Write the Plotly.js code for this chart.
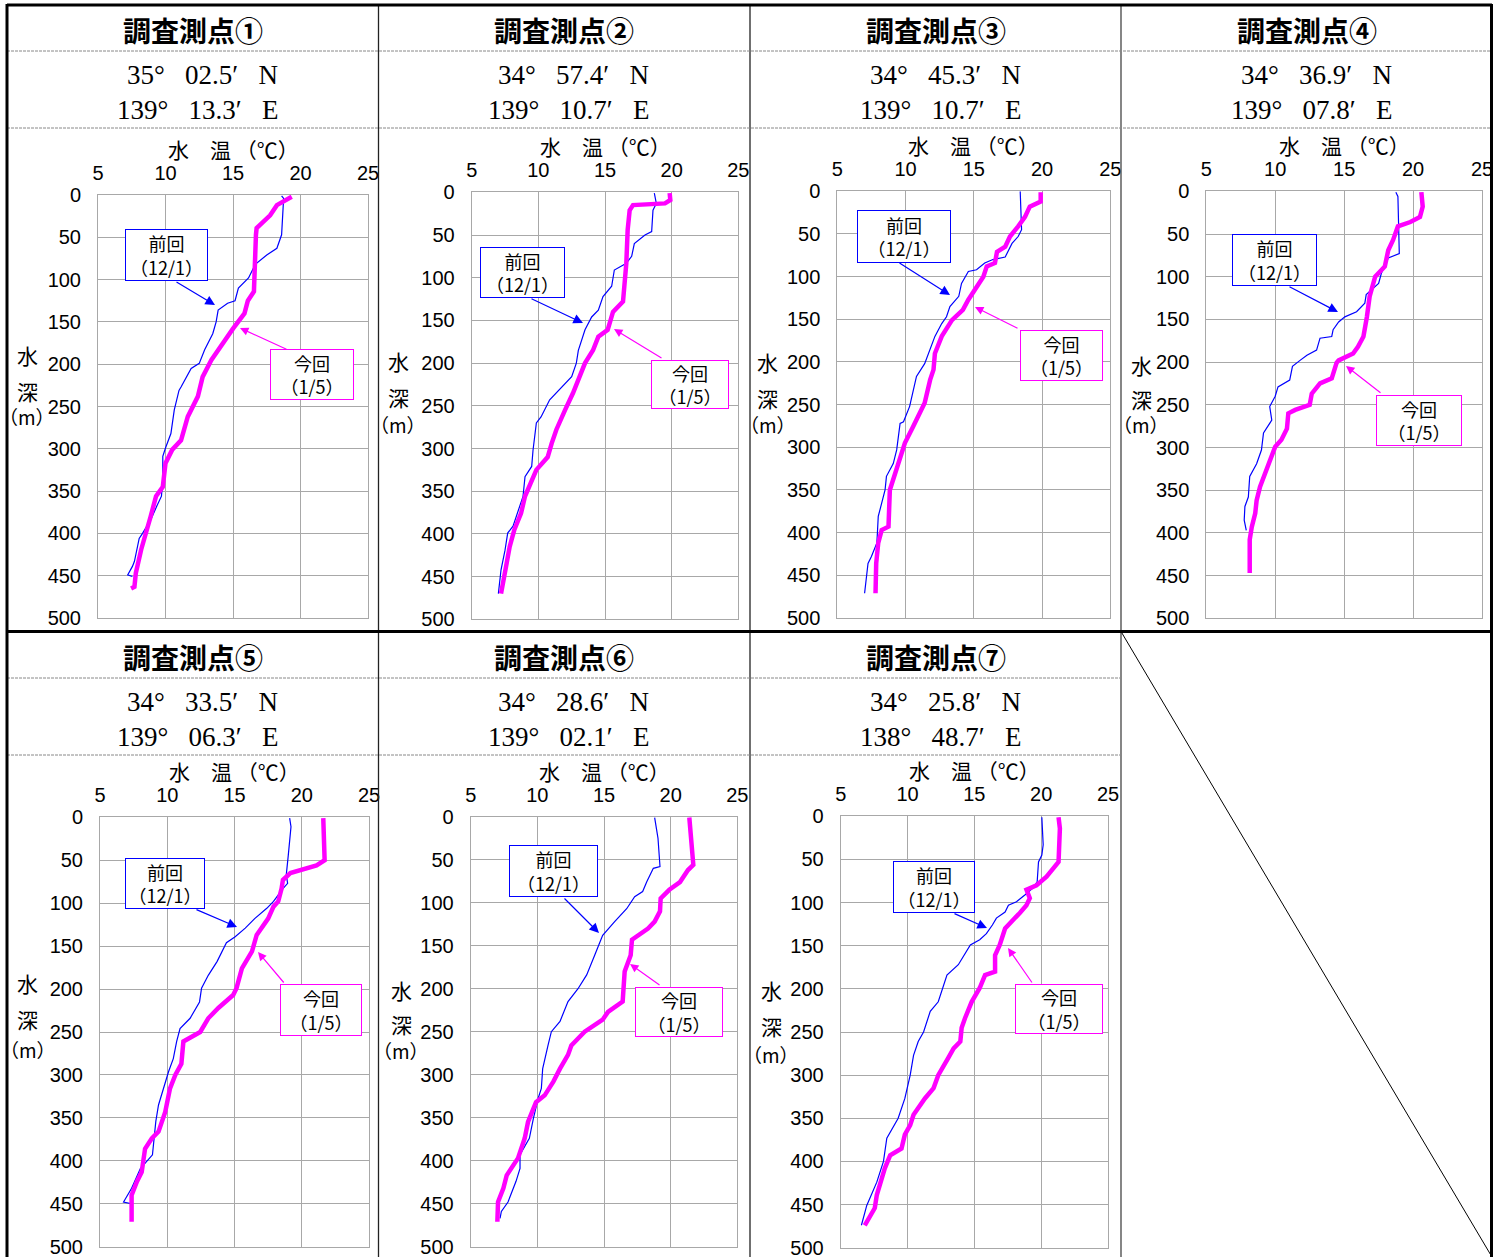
<!DOCTYPE html>
<html>
<head>
<meta charset="utf-8">
<script src="https://cdn.plot.ly/plotly-3.0.1.min.js"></script>
<style>
  body { margin: 0; background: #fff; }
  #chart { width: 1495px; height: 1257px; }
</style>
</head>
<body>
<div id="chart"></div>
<script>
// station names and positions
var titles = ['調査測点①', '調査測点②', '調査測点③', '調査測点④', '調査測点⑤', '調査測点⑥', '調査測点⑦'];
var latText = ['35°\u2002 02.5′\u2002 N', '34°\u2002 57.4′\u2002 N', '34°\u2002 45.3′\u2002 N', '34°\u2002 36.9′\u2002 N',
               '34°\u2002 33.5′\u2002 N', '34°\u2002 28.6′\u2002 N', '34°\u2002 25.8′\u2002 N'];
var lonText = ['139°\u2002 13.3′\u2002 E', '139°\u2002 10.7′\u2002 E', '139°\u2002 10.7′\u2002 E', '139°\u2002 07.8′\u2002 E',
               '139°\u2002 06.3′\u2002 E', '139°\u2002 02.1′\u2002 E', '138°\u2002 48.7′\u2002 E'];
var prevLabel = '前回<br>（12/1）';
var nowLabel = '今回<br>（1/5）';

// station 1
var t1Prev = [18.6,18.75,18.6,18.25,17.5,16.65,16.15,15.4,15.15,14.6,13.9,13.75,13.5,12.9,12.5,11.9,11.15,11.0,10.65,10.4,10.0,9.8,9.8,9.7,9.35,8.9,8.3,8.05,7.7,7.55,7.2,7.55];
var d1Prev = [1,4,47,63,71,82,98,110,125,128,136,150,164,183,199,205,227,231,254,282,299,309,337,356,368,384,400,406,433,439,449,451];
var t1Now = [19.35,18.7,18.25,17.75,17.25,16.75,16.7,16.6,16.55,16.1,15.85,15.0,14.1,13.4,12.75,12.4,11.65,11.15,10.5,10.0,9.8,9.3,8.9,8.55,8.2,7.8,7.7,7.45];
var d1Now = [2,8,12,24,31,39,47,80,114,125,140,158,180,195,215,238,262,290,301,317,345,356,380,400,419,447,463,465];

// station 2
var t2Prev = [18.7,18.85,18.6,18.5,18.0,17.2,17.0,16.6,15.7,15.5,14.85,14.5,14.0,13.5,13.0,12.85,12.5,11.6,10.85,10.2,9.85,9.6,9.5,9.0,8.85,8.1,7.7,7.5,7.2,7.0];
var d2Prev = [1,13,21,46,50,60,75,83,91,110,122,138,146,161,185,200,216,231,243,263,270,302,321,333,356,391,399,419,442,470];
var t2Now = [19.85,19.9,19.5,17.1,16.85,16.7,16.6,16.5,16.35,15.6,15.35,15.2,14.5,14.1,13.5,13.0,12.6,12.0,11.35,11.0,10.7,9.85,9.35,9.0,8.7,8.2,7.85,7.5,7.2];
var d2Now = [1,9,13,15,21,44,83,110,128,140,153,161,169,185,200,220,235,255,278,294,310,325,345,356,376,395,415,442,470];

// station 3
var t3Prev = [18.4,18.5,18.25,17.8,17.3,16.4,15.8,15.2,14.6,14.1,13.9,13.25,13.0,12.65,12.15,11.8,11.4,10.8,10.55,10.3,9.85,9.6,9.35,9.1,8.6,8.5,8.0,7.9,7.5,7.25,7.0];
var d3Prev = [0,45,53,61,77,80,84,92,94,108,123,135,147,155,170,186,202,217,233,252,270,272,303,319,334,350,381,412,428,436,471];
var t3Now = [19.9,19.9,19.1,18.75,18.25,17.65,17.3,16.7,16.55,15.95,15.7,15.2,14.6,14.2,13.4,12.65,12.15,12.05,11.8,11.4,10.95,10.55,9.95,9.45,9.1,8.85,8.75,8.25,8.0,7.85,7.8];
var d3Now = [1,12,18,30,41,53,65,71,84,88,100,112,127,139,151,170,190,209,221,248,264,276,295,319,334,350,393,397,412,436,471];

// station 4
var t4Prev = [18.75,18.9,19.0,18.2,17.7,17.5,16.6,16.5,15.9,15.05,14.6,14.2,14.1,13.25,13.0,12.3,11.8,11.25,11.05,10.2,10.0,9.6,9.75,9.15,9.0,8.65,8.15,8.05,7.8,7.75,7.9];
var d4Prev = [1,6,73,78,96,108,121,131,141,147,153,162,170,172,186,192,198,205,221,229,240,252,268,283,303,319,334,358,369,385,397];
var t4Now = [20.6,20.7,20.5,19.8,18.9,18.55,18.2,17.95,17.25,17.1,16.85,16.65,16.4,16.0,15.65,14.6,14.45,14.1,13.25,12.65,12.5,11.45,10.95,10.85,10.45,10.0,9.6,9.25,8.9,8.65,8.55,8.3,8.15,8.15];
var d4Now = [1,18,30,36,41,57,69,88,100,108,123,147,170,182,190,198,201,219,225,237,250,256,260,278,291,299,315,330,346,362,377,393,408,447];

// station 5
var t5Prev = [19.1,19.2,19.0,18.85,18.95,18.6,17.9,17.4,16.5,15.8,15.05,14.4,13.7,13.05,12.55,12.4,11.7,10.95,10.7,10.45,10.1,9.7,9.35,9.15,9.0,8.9,8.0,7.35,6.75,7.35];
var d5Prev = [1,11,44,67,77,83,98,106,118,129,139,146,168,184,199,215,234,246,261,281,296,316,335,354,381,393,409,432,448,450];
var t5Now = [21.6,21.7,21.1,20.1,19.15,18.6,18.5,18.25,17.9,17.5,16.65,16.3,15.55,15.15,14.9,13.8,13.05,12.45,11.55,11.2,11.05,10.6,10.2,9.85,9.35,8.85,8.35,8.1,7.75,7.35,7.35];
var d5Now = [1,50,56,61,65,73,83,98,104,118,137,156,176,199,207,222,234,250,257,261,287,300,316,343,366,374,386,413,424,440,471];

// station 6
var t6Prev = [18.8,19.05,19.2,18.7,18.2,17.9,17.3,16.7,15.8,14.9,14.3,13.7,13.05,12.3,11.7,11.05,10.8,10.4,10.3,10.05,9.7,9.4,8.7,8.7,8.4,7.8,7.3,7.2];
var d6Prev = [1,25,58,60,76,87,93,107,122,138,161,184,200,215,238,250,266,293,316,328,351,374,393,409,424,448,459,467];
var t6Now = [21.4,21.7,21.3,20.7,19.9,19.25,19.2,18.8,18.3,17.3,17.1,17.0,16.7,16.55,16.4,15.3,14.9,13.55,12.55,12.3,11.7,11.2,10.55,9.9,9.3,9.05,8.55,7.7,7.45,7.05,7.0];
var d6Now = [1,56,62,76,85,95,110,122,130,140,143,161,172,180,215,227,236,250,266,277,293,308,324,332,355,374,397,417,432,448,471];

// station 7
var t7Prev = [20.05,20.15,20.05,19.8,19.7,19.4,18.8,18.15,17.55,17.3,16.65,16.35,15.9,15.4,14.7,14.2,13.8,12.95,12.65,12.3,11.7,11.2,10.8,10.45,10.2,9.8,9.3,8.45,8.2,7.7,6.95,6.55];
var d7Prev = [1,33,45,53,76,83,91,99,103,111,118,126,136,143,149,161,172,184,199,215,226,250,261,277,300,327,350,373,400,424,451,474];
var t7Now = [21.3,21.4,21.3,20.8,20.4,19.65,18.9,19.15,18.9,18.4,17.9,17.3,16.9,16.55,16.55,15.8,15.4,14.8,14.3,14.05,13.95,13.45,13.05,12.3,11.95,11.3,10.45,10.2,9.8,9.55,8.7,8.3,7.7,7.55,6.8];
var d7Now = [1,14,53,62,70,80,85,95,103,112,120,130,149,161,180,184,199,215,234,245,261,269,280,300,315,327,346,358,369,385,393,408,439,454,474];

var prevT = [t1Prev, t2Prev, t3Prev, t4Prev, t5Prev, t6Prev, t7Prev];
var prevD = [d1Prev, d2Prev, d3Prev, d4Prev, d5Prev, d6Prev, d7Prev];
var nowT = [t1Now, t2Now, t3Now, t4Now, t5Now, t6Now, t7Now];
var nowD = [d1Now, d2Now, d3Now, d4Now, d5Now, d6Now, d7Now];

// page geometry (pixels)
var W = 1495, H = 1257;
function px(x) { return x / W; }
function py(y) { return 1 - y / H; }

var plotBox = [[98,195,368,618],[471.7,192.3,738.3,619.3],[837.3,191.3,1110.3,618],[1206.3,191.3,1482,618.3],
               [100,817.3,369,1246.7],[470.7,816.7,737.3,1246.7],[840.7,816.3,1108,1247.7]];
var cellCx = [192.5, 564, 935.5, 1306.5, 192.5, 564, 935.5];
var rowTop = [0, 0, 0, 0, 627, 627, 627];
var yLab = [[27,355,391,416],[398,361,397,424],[768,362,398,424],[1141,365,399,424],
            [28,983,1019,1049],[401,990,1024,1050],[771,990,1026,1054]];
var prevBox = [[166,255,83,52],[522,273,85,51],[904,236,94,53],[1274,260,85,52],[164.5,883,80,51],[553,871,89,52],[934.5,887.5,82,52]];
var nowBox = [[312,375,84,51],[690,384,78,49],[1061,355,83,51],[1419,420,86,51],[320.5,1010,82,52],[679,1012,88,50],[1059,1009,88,50]];
var prevArrow = [[175,281,215,305],[530,298,583,323],[898,262,950,295],[1288,286,1338,312],[195,909,237,927],[563,897,599,933],[953,913,987,928]];
var nowArrow = [[288,350,240,328],[663,359,614,329],[1019,329,975,307],[1382,394,1346,366],[285,984,258,952],[661,986,630,964],[1033,984,1008,948]];

var data = [];
var layout = {
  width: W, height: H,
  margin: {l: 0, r: 0, t: 0, b: 0},
  paper_bgcolor: '#fff', plot_bgcolor: '#fff',
  showlegend: false,
  font: {family: 'Liberation Sans, Arial, sans-serif', color: '#000'},
  shapes: [], annotations: []
};

var gothic = 'Noto Sans CJK JP, sans-serif';

for (var i = 0; i < 7; i++) {
  var n = i === 0 ? '' : String(i + 1);
  var b = plotBox[i];
  data.push({x: prevT[i], y: prevD[i], xaxis: 'x' + n, yaxis: 'y' + n, type: 'scatter', mode: 'lines',
             name: '前回', line: {color: '#0000ff', width: 1.2}});
  data.push({x: nowT[i], y: nowD[i], xaxis: 'x' + n, yaxis: 'y' + n, type: 'scatter', mode: 'lines',
             name: '今回', line: {color: '#ff00ff', width: 4.5}});

  layout['xaxis' + n] = {
    domain: [px(b[0]), px(b[2])], anchor: 'y' + n, side: 'top',
    range: [5, 25], tick0: 5, dtick: 5, showgrid: true, gridcolor: '#a8a8a8', zeroline: false,
    showline: true, mirror: true, linecolor: '#a8a8a8', ticks: '', ticklabelstandoff: 6,
    ticklabeloverflow: 'allow', tickfont: {size: 20, color: '#000'}, fixedrange: true
  };
  layout['yaxis' + n] = {
    domain: [py(b[3]), py(b[1])], anchor: 'x' + n,
    range: [500, 0], tick0: 0, dtick: 50, showgrid: true, gridcolor: '#a8a8a8', zeroline: false,
    showline: true, mirror: true, linecolor: '#a8a8a8', ticks: '', ticklabelstandoff: 12,
    ticklabeloverflow: 'allow', tickfont: {size: 20, color: '#000'}, fixedrange: true
  };

  var r0 = rowTop[i];
  // headings
  layout.annotations.push({xref: 'paper', yref: 'paper', x: px(cellCx[i]), y: py(r0 + 30), showarrow: false,
    text: '<b>' + titles[i] + '</b>', font: {family: gothic, size: 28}, xanchor: 'center', yanchor: 'middle'});
  layout.annotations.push({xref: 'paper', yref: 'paper', x: px(cellCx[i] + 87), y: py(r0 + 75), showarrow: false,
    text: latText[i], font: {family: 'Liberation Serif, serif', size: 27}, xanchor: 'right', yanchor: 'middle'});
  layout.annotations.push({xref: 'paper', yref: 'paper', x: px(cellCx[i] + 87), y: py(r0 + 110), showarrow: false,
    text: lonText[i], font: {family: 'Liberation Serif, serif', size: 27}, xanchor: 'right', yanchor: 'middle'});
  // axis titles
  layout.annotations.push({xref: 'paper', yref: 'paper', x: px((b[0] + b[2]) / 2), y: py(b[1] - 46), showarrow: false,
    text: '水　温 （℃）', font: {family: gothic, size: 21}, xanchor: 'center', yanchor: 'middle'});
  var yl = yLab[i];
  layout.annotations.push({xref: 'paper', yref: 'paper', x: px(yl[0]), y: py(yl[1]), showarrow: false,
    text: '水', font: {family: gothic, size: 21}, xanchor: 'center', yanchor: 'middle'});
  layout.annotations.push({xref: 'paper', yref: 'paper', x: px(yl[0]), y: py(yl[2]), showarrow: false,
    text: '深', font: {family: gothic, size: 21}, xanchor: 'center', yanchor: 'middle'});
  layout.annotations.push({xref: 'paper', yref: 'paper', x: px(yl[0]), y: py(yl[3]), showarrow: false,
    text: '（m）', font: {family: gothic, size: 19}, xanchor: 'center', yanchor: 'middle'});
  // call-outs
  var pb = prevBox[i], nb = nowBox[i], pa = prevArrow[i], na = nowArrow[i];
  layout.annotations.push({xref: 'paper', yref: 'paper', x: px(pb[0]), y: py(pb[1]), showarrow: false,
    text: prevLabel, font: {family: gothic, size: 18}, width: pb[2] - 2, height: pb[3] - 2,
    bordercolor: '#0000ff', borderwidth: 1, borderpad: 0, bgcolor: '#fff', xanchor: 'center', yanchor: 'middle'});
  layout.annotations.push({xref: 'paper', yref: 'paper', x: px(nb[0]), y: py(nb[1]), showarrow: false,
    text: nowLabel, font: {family: gothic, size: 18}, width: nb[2] - 2, height: nb[3] - 2,
    bordercolor: '#ff00ff', borderwidth: 1, borderpad: 0, bgcolor: '#fff', xanchor: 'center', yanchor: 'middle'});
  layout.annotations.push({xref: 'paper', yref: 'paper', x: px(pa[2]), y: py(pa[3]), text: '', showarrow: true,
    ax: pa[0] - pa[2], ay: pa[1] - pa[3], arrowcolor: '#0000ff', arrowwidth: 1.2, arrowhead: 2, arrowsize: 1.6, standoff: 0});
  layout.annotations.push({xref: 'paper', yref: 'paper', x: px(na[2]), y: py(na[3]), text: '', showarrow: true,
    ax: na[0] - na[2], ay: na[1] - na[3], arrowcolor: '#ff00ff', arrowwidth: 1.2, arrowhead: 2, arrowsize: 1.4, standoff: 0});
}

function line(x0, y0, x1, y1, color, width, dash) {
  layout.shapes.push({type: 'line', xref: 'paper', yref: 'paper', x0: px(x0), y0: py(y0), x1: px(x1), y1: py(y1),
    line: {color: color, width: width, dash: dash || 'solid'}});
}

// table frame
line(378.5, 5, 378.5, 1257, '#222', 1.3);
line(750, 5, 750, 1257, '#222', 1.3);
line(1121, 5, 1121, 1257, '#444', 1.3);
line(7, 51, 1491, 51, '#888', 1, '3px,1px');
line(7, 128, 1491, 128, '#888', 1, '3px,1px');
line(7, 678, 1121, 678, '#888', 1, '3px,1px');
line(7, 755, 1121, 755, '#888', 1, '3px,1px');
line(1121, 631.5, 1492, 1257, '#000', 1);
line(7, 5, 1492, 5, '#000', 3);
line(7, 631.5, 1492, 631.5, '#000', 3);
line(7, 4, 7, 1260, '#000', 3);
line(1491.5, 4, 1491.5, 1260, '#000', 3);

Plotly.newPlot('chart', data, layout, {displayModeBar: false, staticPlot: true});
</script>
</body>
</html>
